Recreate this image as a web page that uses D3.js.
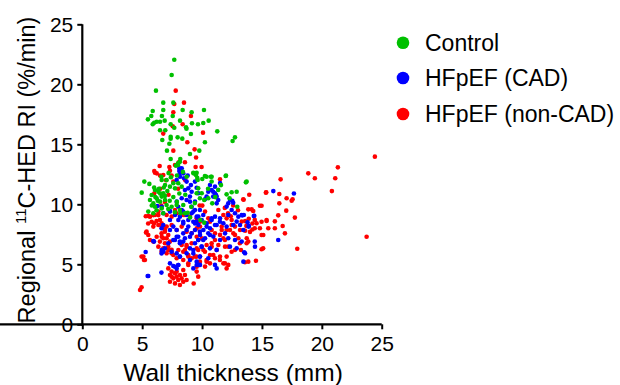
<!DOCTYPE html>
<html><head><meta charset="utf-8">
<script src="https://cdn.jsdelivr.net/npm/d3@7"></script>
<style>body{margin:0;background:#fff}text{font-family:Arial,"Liberation Sans",sans-serif}</style>
</head><body><svg id="c" width="620" height="385"></svg>
<script>
const xTicks=[0,5,10,15,20,25];
const yTicks=[0,5,10,15,20,25];
const seriesNames=["Control","HFpEF (CAD)","HFpEF (non-CAD)"];
const seriesColors=["#00c000","#0000ff","#ff0000"];
const controlPts=[[7.68,22.05],[7.46,20.78],[6.15,19.47],[6.76,18.47],[7.6,18.47],[5.88,17.78],[6.76,17.86],[8.38,17.86],[9.13,17.67],[10.16,17.86],[5.76,17.36],[6.65,17.36],[7.55,17.36],[5.48,17.08],[6.21,16.88],[6.49,16.88],[6.88,16.97],[5.88,16.67],[6.0,16.8],[8.16,16.97],[7.38,16.67],[9.16,16.75],[9.66,16.67],[10.1,16.78],[10.55,16.97],[7.68,16.38],[8.66,16.42],[8.7,16.3],[6.49,16.17],[6.93,16.17],[11.27,16.08],[9.07,15.86],[7.38,15.63],[7.38,15.47],[7.96,15.58],[8.35,15.47],[6.68,15.36],[12.75,15.58],[12.55,15.28],[7.27,15.05],[10.24,15.17],[9.77,14.47],[7.07,14.47],[8.99,14.19],[7.38,13.78],[8.18,13.78],[7.82,13.22],[8.0,13.28],
[9.27,12.63],[9.49,12.44],[8.71,12.3],[10.8,12.3],[10.38,12.3],[10.8,11.9],[5.18,11.89],[4.96,10.97],[13.66,11.83],[11.35,11.2],[12.05,10.83],[12.47,11.0],[12.89,11.05],[12.94,9.8],[8.15,13.55],[8.0,13.42],[7.4,12.25],[7.04,12.03],[7.6,11.75],[7.32,11.47],[7.74,11.33],[8.01,11.75],[8.3,11.47],
[6.63,12.03],[6.91,11.61],[6.07,11.19],[6.35,11.05],[6.76,10.92],[5.79,10.78],[6.21,10.5],[6.63,10.64],[5.65,10.36],[5.93,10.08],[6.49,10.22],[6.91,10.36],[7.04,9.94],[6.07,9.8],[6.63,9.66],[7.18,9.61],[5.51,9.39],[5.93,9.25],[6.76,9.25],[7.46,9.8],[7.88,9.94],[8.15,9.53],[7.74,9.34],[8.43,9.94],[8.57,9.25],
[9.55,12.63],[9.63,12.03],[10.24,12.36],[10.74,12.3],[11.97,12.36],[9.68,11.33],[9.55,10.92],[9.97,10.92],[9.82,10.5],[10.52,10.5],[11.58,11.6],[12.0,12.39],[13.72,11.89],[10.18,10.36],[10.85,10.08],[9.85,8.69],[8.2,9.25],[9.29,12.58],[10.02,12.11],
[6.4,11.3],[6.1,10.6],[6.5,10.9],[6.8,11.4],[6.3,10.3],[6.9,10.7],[7.1,11.1],[5.8,9.9],[6.2,9.5],[7.3,10.3],[7.6,10.6],[7.9,10.2],[6.0,11.4],[8.8,9.3],[9.1,9.8],[8.6,10.8],[9.4,10.1],[8.1,10.9],[7.2,12.6],[7.9,12.4],[8.4,12.7],[9.6,12.2],[10.5,11.3],[11.1,10.6],[12.3,10.5],[5.6,11.7],[6.6,12.3],[9.0,8.9],[10.18,8.47]];
const cadPts=[[8.1,13.0],[8.2,12.85],[8.25,12.7],[8.1,12.44],[8.8,12.4],[10.66,11.6],[11.08,11.47],[10.93,11.05],[11.16,10.78],[11.22,10.08],[12.33,10.36],[12.52,10.3],[12.19,10.08],[12.6,10.13],[14.36,9.05],[15.95,11.1],[17.67,10.9],
[8.3,13.0],[8.1,12.78],[8.43,12.58],[8.15,12.3],[8.49,12.17],[7.88,12.03],[8.71,11.89],[9.07,11.6],[8.85,11.33],[8.57,11.19],[9.13,11.05],[9.55,11.38],[9.41,11.89],[9.68,10.92],
[8.3,10.5],[8.71,10.36],[8.99,10.22],[7.88,10.22],[8.01,9.8],[9.13,9.8],[9.41,9.53],[8.43,9.39],[7.32,9.44],[6.63,9.8],[6.26,9.86],[9.41,10.22],[8.99,10.64],
[10.8,11.19],[11.08,10.92],[11.22,10.64],[10.93,10.64],[11.35,10.36],[10.52,11.05],[10.38,10.64],[10.24,10.42],
[12.05,9.81],[12.47,9.53],[12.19,9.11],[12.75,9.25],[13.03,8.97],[13.31,9.11],[12.89,8.56],[12.61,8.28],[13.17,8.28],[13.45,7.86],[12.05,8.14],[11.78,8.42],[11.5,8.83],[11.08,8.97],[10.8,8.69],[11.22,8.28],[10.66,8.0],[10.38,8.42],[9.97,8.69],[9.69,8.97],[9.55,8.56],[10.11,7.86],[10.52,7.58],[9.83,7.45],[9.69,7.03],[10.25,7.17],[10.94,7.31],[11.5,7.03],[11.92,7.58],[12.19,7.17],[12.75,7.03],[13.31,6.89],[12.33,6.47],[12.89,6.33],[13.59,5.92],[13.45,5.22],[11.22,6.2],[10.66,6.33],[9.97,6.47],[9.83,5.64],[10.52,5.5],[11.08,4.95],[9.83,4.95],[9.55,5.22],
[5.51,4.03],[5.29,6.03],[5.93,6.94],[6.76,8.28],[6.62,8.0],[7.6,8.14],[7.88,7.86],[7.32,7.86],[8.01,7.3],[7.74,7.03],[8.15,6.75],[8.43,6.89],[6.76,6.05],[6.62,5.91],[7.88,5.91],[8.15,5.64],[8.01,4.94],[7.6,4.86],[7.32,5.08],[7.88,4.66],[9.27,4.66],[8.99,5.36],[9.55,4.94],[9.27,5.91],[8.99,6.33],[9.41,6.75],[9.68,7.03],[9.13,7.58],[8.71,7.86],[8.43,8.41],[8.85,8.69],[9.41,8.41],[9.55,8.97],[9.13,9.25],[8.15,8.97],[7.32,8.69],[6.76,9.25],
[6.61,4.31],[5.99,6.89],[11.5,11.78],[13.49,9.11],[13.89,8.14],[14.32,9.03],[14.42,6.47],[13.8,8.5],[13.9,8.2],[14.4,6.89],[13.52,6.0],[16.36,7.03],[13.36,9.08],
[7.32,9.39],[7.74,9.11],[8.02,8.69],[8.43,8.55],[8.85,8.14],[9.27,8.55],[9.69,8.28],[9.41,7.86],[9.82,7.72],[8.99,7.3],[8.57,7.17],[8.15,6.89],[7.6,7.03],[7.18,6.75],[6.9,6.33],[7.46,6.05],[7.88,7.3],[8.43,7.58],[10.1,7.03],[10.38,8.14],[10.8,8.83],[11.08,8.28],[11.49,8.55],[10.66,7.44],[9.96,6.47],[9.27,6.19],[8.71,5.92],[8.15,5.64],[8.02,4.94],[7.74,4.8],[9.82,5.64],[11.22,4.66],[9.82,9.53],[10.1,9.11],[9.27,9.39],[8.71,9.11],[8.3,9.53],[9.76,4.94],[5.46,4.03],[6.63,6.19]];
const nonCadPts=[[7.8,19.47],[8.49,18.47],[7.68,18.36],[9.07,17.36],[7.6,17.67],[8.38,16.67],[7.55,16.5],[6.76,15.89],[10.08,15.97],[8.77,15.17],[9.38,14.58],[7.6,14.47],[8.05,13.5],[8.57,13.5],[6.46,13.19],[7.27,13.11],[9.46,13.11],[9.96,13.11],
[6.01,12.78],[6.21,12.58],[6.76,12.44],[6.07,12.63],[6.49,12.4],[7.32,12.8],[7.46,12.4],[11.5,12.08],[9.5,13.9],[7.74,13.28],
[24.43,13.97],[21.34,13.08],[18.87,12.58],[19.42,12.17],[21.12,12.17],[16.56,12.08],[20.84,11.1],[16.45,10.86],[15.36,11.0],[13.94,10.8],[17.06,10.5],[17.48,10.3],[17.56,10.42],[16.45,10.08],[13.47,10.38],[14.97,9.88],[14.83,9.88],[17.03,9.47],[13.86,9.58],[14.14,9.58],[14.27,9.44],[16.36,9.08],[17.75,8.89],[15.39,8.61],[16.08,8.58],[16.73,8.19],[15.53,8.0],[16.08,8.0],[14.97,7.44],[16.92,7.58],[23.74,7.3],[17.95,6.3],[13.6,8.6],[13.9,8.8],[14.2,8.4],[14.4,8.7],[13.7,8.2],[13.6,7.8],[14.0,7.7],[14.4,8.0],[14.2,7.9],[15.1,6.33],[14.97,6.25],[13.86,6.89],[13.72,6.75],[13.25,6.19],[14.5,5.3],[13.58,5.17],[15.33,10.97],[13.44,10.42],[14.55,8.42],[14.97,8.55],[14.83,8.0],[15.39,8.69],[15.11,7.44],[13.86,5.22],
[10.25,9.39],[11.36,9.53],[11.78,9.11],[12.47,8.69],[12.05,8.83],[12.75,8.14],[12.33,7.86],[11.64,7.86],[11.08,7.58],[11.78,7.17],[12.75,7.45],[13.03,7.17],[11.36,6.61],[11.92,6.47],[12.47,6.05],[10.38,6.61],[10.8,6.75],[10.11,6.2],[10.94,5.78],[11.5,5.64],[12.05,5.64],[10.38,5.22],[11.78,5.08],[12.19,4.95],[10.25,4.81],[9.97,7.17],[10.8,7.86],[9.83,8.14],[10.52,8.83],[13.31,8.56],[13.17,7.86],[13.73,7.17],
[4.82,2.86],[4.95,3.08],[4.95,5.64],[5.15,5.36],[5.32,7.64],[5.51,7.44],[5.93,8.14],[5.79,8.55],[5.98,8.41],[5.65,8.97],[6.07,9.11],[6.48,8.69],[6.62,8.41],[6.35,8.28],[6.76,8.0],[7.04,8.14],[6.9,7.72],[6.62,7.58],[7.18,7.44],[6.21,7.3],[6.76,7.17],[6.48,6.89],[6.9,6.75],[7.32,6.89],[7.18,6.47],[6.76,6.33],[6.35,6.47],[6.62,6.05],[7.04,5.92],[7.46,6.2],[7.6,5.78],
[7.18,4.66],[7.46,4.39],[7.32,4.11],[7.74,4.25],[7.88,3.97],[8.15,4.11],[8.29,3.83],[8.01,3.69],[7.6,3.83],[8.43,3.55],[7.74,3.41],[8.15,3.28],[8.57,4.11],[8.71,3.69],[7.46,3.97],[7.88,4.39],[8.43,4.53],[7.32,3.55],[9.3,3.4],
[8.57,6.19],[8.85,5.78],[9.13,5.5],[9.55,5.64],[9.68,6.19],[8.71,6.61],[8.43,5.36],[8.85,5.08],[9.55,4.39],[9.68,3.97],[6.35,9.39],[7.04,9.11],[7.88,9.25],[8.57,9.11],[9.55,7.99],
[5.51,9.03],[5.93,9.1],[6.35,9.1],[5.37,7.72],[5.65,7.03],[5.93,6.89],[5.1,5.64],[5.23,5.36],[6.63,8.14],[6.9,7.86],[6.63,7.3],[7.04,7.17],[7.18,6.19],[7.46,5.92],[7.88,5.5],
[7.46,8.28],[7.88,7.86],[8.3,8.14],[8.71,7.72],[9.13,7.58],[9.55,7.3],[8.3,6.61],[8.71,6.47],[9.13,6.75],[9.55,6.33],[8.02,6.19],[8.43,6.05],[8.85,5.64],[9.41,5.64],[9.82,5.22],[10.38,5.36],[10.66,5.08],[10.24,6.05],[10.8,6.47],[11.22,6.19],[11.08,7.03],[11.5,7.45],[11.91,7.03],[12.05,7.86],[11.64,8.14],[12.47,8.28],[12.61,7.58],[12.19,6.47],[12.75,6.19],[13.16,6.75],[10.66,5.78],[11.08,5.5],[11.49,5.36],[11.91,5.08],[12.05,4.66],[9.55,4.8],[8.85,4.94],[8.43,9.11],[8.99,8.97],[9.55,8.83],[7.74,9.53],[9.82,8.55],[10.66,8.55],[7.46,8.97],[10.02,9.89],[12.17,9.25],[12.4,9.0],
[6.5,11.3],[6.0,10.9],[5.3,9.0],[5.5,8.4],[6.9,10.2],[7.2,10.8],[8.0,11.3],[8.6,12.0],[9.8,9.9],[11.9,9.7],[12.6,9.9],[13.0,9.5],[7.0,12.0],[7.6,11.9],[6.2,8.6],[6.6,9.9]];

const svg=d3.select("#c");
const x=d3.scaleLinear().domain([0,25]).range([82.3,381.7]);
const y=d3.scaleLinear().domain([0,25]).range([324.3,24.3]);

const drawOrder=[[nonCadPts,2],[cadPts,1],[controlPts,0]];
drawOrder.forEach(([pts,i])=>{
  svg.append("g").selectAll("circle").data(pts).join("circle")
    .attr("cx",d=>x(d[0])).attr("cy",d=>y(d[1])).attr("r",2.3)
    .attr("fill",seriesColors[i]);
});

const xa=svg.append("g").attr("transform","translate(0,324.3)")
  .call(d3.axisBottom(x).tickValues(xTicks).tickSize(5).tickSizeOuter(0).tickPadding(7).tickFormat(d3.format("d")));
const ya=svg.append("g").attr("transform","translate(82.3,0)")
  .call(d3.axisLeft(y).tickValues(yTicks).tickSize(5).tickSizeOuter(0).tickPadding(4).tickFormat(d3.format("d")));
[xa,ya].forEach(a=>{
  a.select(".domain").attr("stroke","#000").attr("stroke-width",2.2);
  a.selectAll(".tick line").attr("stroke","#000").attr("stroke-width",2);
  a.selectAll(".tick text").attr("font-size",21).attr("fill","#000").attr("font-family","Arial, 'Liberation Sans', sans-serif");
});
xa.select(".domain").attr("d","M-1.1,0H381.7");
ya.select(".domain").attr("d","M0,325.4V24.3");

svg.append("text").attr("x",233).attr("y",381).attr("text-anchor","middle")
  .attr("font-size",24.5).text("Wall thickness (mm)");

const yt=svg.append("text").attr("transform","translate(35,170) rotate(-90)")
  .attr("text-anchor","middle").attr("font-size",23.5);
yt.append("tspan").text("Regional ");
yt.append("tspan").attr("font-size",15).attr("dy",-9).text("11");
yt.append("tspan").attr("dy",9).text("C-HED RI (%/min)");

const legY=[42.7,78,114];
const lg=svg.append("g");
seriesNames.forEach((n,i)=>{
  lg.append("circle").attr("cx",403).attr("cy",legY[i]).attr("r",6.3).attr("fill",seriesColors[i]);
  lg.append("text").attr("x",425).attr("y",legY[i]+8).attr("font-size",23).text(n);
});
</script></body></html>
